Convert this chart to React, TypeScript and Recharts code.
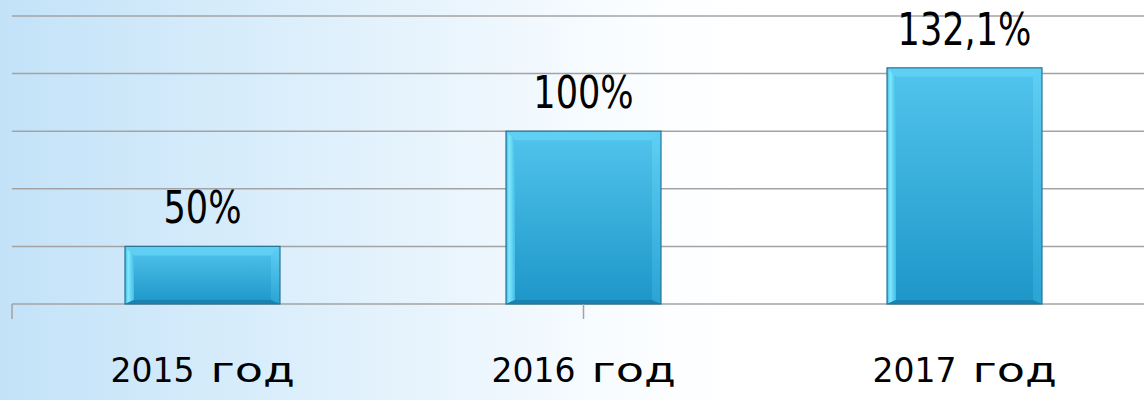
import { BarChart, Bar, XAxis, YAxis, CartesianGrid, LabelList } from 'recharts';

const years = ['2015 год', '2016 год', '2017 год'];
// bar heights as read against the gridlines (axis starts at 25, step 25)
const barValues = [50, 100, 127.5];
const valueLabels = ['50%', '100%', '132,1%'];
const yTicks = [25, 50, 75, 100, 125, 150];
const edgeTicks = [0, 1, 2, 3];

const data = years.map((year, i) => ({
  year,
  value: barValues[i],
  label: valueLabels[i],
}));

function BevelBar(props: any) {
  const { x, y, width, height } = props;
  if (!height || height <= 0) return null;
  const b = 9;
  const r = x + width;
  const btm = y + height;
  return (
    <g>
      <rect x={x} y={y} width={width} height={height} fill="url(#barFill)" />
      <polygon
        points={`${x},${y} ${r},${y} ${r - b},${y + b} ${x + b},${y + b}`}
        fill="#5fd0f4"
      />
      <polygon
        points={`${x},${y} ${x + b},${y + b} ${x + b},${btm - 4} ${x},${btm}`}
        fill="url(#leftBevel)"
      />
      <polygon
        points={`${r},${y} ${r},${btm} ${r - b},${btm - 4} ${r - b},${y + b}`}
        fill="url(#rightBevel)"
      />
      <polygon
        points={`${x},${btm} ${x + b},${btm - 4} ${r - b},${btm - 4} ${r},${btm}`}
        fill="#1a82b2"
      />
      <rect
        x={x}
        y={y}
        width={width}
        height={height}
        fill="none"
        stroke="#2a7595"
        strokeWidth={1.2}
      />
    </g>
  );
}

// value label above the bar, squeezed horizontally like the narrow original font
function ValueLabel(props: any) {
  const { x, y, width, value } = props;
  const cx = x + width / 2;
  return (
    <text
      x={cx}
      y={y - 23}
      textAnchor="middle"
      fill="#000"
      fontSize={45}
      fontFamily="DejaVu Sans"
      transform={`translate(${cx} 0) scale(0.78 1) translate(${-cx} 0)`}
    >
      {value}
    </text>
  );
}

// "2015 год": the word "год" is set wider in the original
function YearTick(props: any) {
  const { x, y, payload } = props;
  const [yr, word] = String(payload.value).split(' ');
  const font = { fill: '#000', fontSize: 33, fontFamily: 'DejaVu Sans' };
  return (
    <g transform={`translate(${x},${y})`}>
      <text x={-8} dy="0.71em" textAnchor="end" {...font}>
        {yr}
      </text>
      <text x={8 / 1.4} dy="0.71em" textAnchor="start" transform="scale(1.4 1)" {...font}>
        {word}
      </text>
    </g>
  );
}

// axis ids: 0 = band edges (tick marks only), 1 = year categories
export default function App() {
  return (
    <div
      style={{
        position: 'absolute',
        left: 0,
        top: 0,
        width: 1144,
        height: 400,
        overflow: 'hidden',
        background:
          'linear-gradient(90deg, #c3e2f8 0%, #d6ecfb 20%, #eaf5fd 40%, #fafdff 55%, #ffffff 65%)',
      }}
    >
      <BarChart
        width={1155}
        height={400}
        data={data}
        margin={{ top: 16, right: 0, left: 12, bottom: 0 }}
      >
        <defs>
          <linearGradient id="barFill" x1="0" y1="0" x2="0" y2="1">
            <stop offset="0%" stopColor="#52c5ed" />
            <stop offset="100%" stopColor="#1d96c8" />
          </linearGradient>
          <linearGradient id="leftBevel" x1="0" y1="0" x2="1" y2="0">
            <stop offset="0%" stopColor="#3fb6e0" />
            <stop offset="35%" stopColor="#7eeaff" />
            <stop offset="100%" stopColor="#45bde8" />
          </linearGradient>
          <linearGradient id="rightBevel" x1="0" y1="0" x2="0" y2="1">
            <stop offset="0%" stopColor="#5fcff4" />
            <stop offset="100%" stopColor="#2aa4d4" />
          </linearGradient>
        </defs>
        <CartesianGrid
          xAxisId={1}
          vertical={false}
          stroke="#a3a3a3"
          strokeWidth={1.5}
        />
        <XAxis
          xAxisId={0}
          type="number"
          scale="linear"
          domain={[0, 3]}
          allowDataOverflow
          ticks={edgeTicks}
          interval={0}
          allowDecimals={false}
          tick={() => <g />}
          tickSize={15}
          tickLine={{ stroke: '#a3a3a3', strokeWidth: 1.5 }}
          axisLine={false}
          height={1}
        />
        <XAxis
          xAxisId={1}
          dataKey="year"
          axisLine={false}
          tickLine={false}
          tickSize={0}
          tickMargin={54}
          height={95}
          tick={<YearTick />}
        />
        <YAxis hide type="number" domain={[25, 150]} ticks={yTicks} />
        <Bar
          xAxisId={1}
          dataKey="value"
          barSize={155}
          shape={<BevelBar />}
          isAnimationActive={false}
        >
          <LabelList dataKey="label" content={<ValueLabel />} />
        </Bar>
      </BarChart>
    </div>
  );
}
